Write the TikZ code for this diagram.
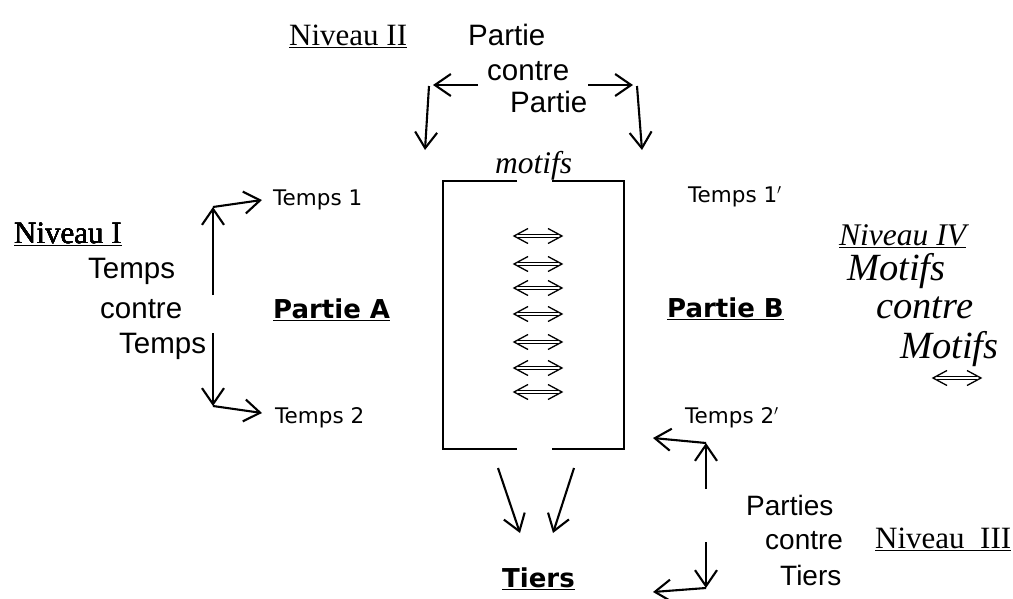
\documentclass[tikz,border=0pt]{standalone}
\usepackage{fontspec}
\setmainfont{Liberation Serif}
\newfontfamily\arialf{Liberation Sans}
\newfontfamily\comicf{DejaVu Sans}
\usetikzlibrary{arrows.meta,positioning}
\tikzset{ txt/.style={inner sep=0pt,anchor=base west},
  sans/.style={txt,font=\arialf\fontsize{29.5}{31}\selectfont},
  smallsans/.style={txt,font=\arialf\fontsize{28}{30}\selectfont},
  roman/.style={txt,font=\fontsize{31}{33}\selectfont},
  ital/.style={txt,font=\itshape\fontsize{31.5}{34}\selectfont},
  bigital/.style={txt,font=\itshape\fontsize{38.5}{40}\selectfont},
  comic/.style={txt,font=\comicf\fontsize{21.5}{24}\selectfont},
  comicb/.style={txt,font=\comicf\bfseries\fontsize{26}{28}\selectfont},
  arr/.style={line width=2.1pt,-{Straight Barb[length=16pt,width=22pt]}},
  box/.style={line width=1.5pt} }
\newcommand{\dblarrow}[2]{%
  \draw[line width=1.1pt] (#1+4,#2-1.9) -- (#1+44,#2-1.9) (#1+4,#2+1.9) -- (#1+44,#2+1.9);
  \draw[line width=1.3pt] (#1+14,#2-7.5) -- (#1,#2) -- (#1+14,#2+7.5)
    (#1+34,#2-7.5) -- (#1+48,#2) -- (#1+34,#2+7.5);}

\begin{document}
\begin{tikzpicture}[x=1pt,y=-1pt]
   \useasboundingbox (0,0) rectangle (1013,598);
   % Niveau II
   \node[roman] (n2) at (289,45) {\underline{Niveau II}};
   \node[sans] (pp1) at (468,45) {Partie};
   \node[sans] (pp2) at (487,80) {contre};
   \node[sans] (pp3) at (510,112) {Partie};
   \coordinate (pl0) at (478,85);  \coordinate (pl1) at (433,85);
   \coordinate (pl2) at (429,86);  \coordinate (pl3) at (425,150);
   \coordinate (pr0) at (588,85);  \coordinate (pr1) at (633,85);
   \coordinate (pr2) at (637,86);  \coordinate (pr3) at (642,150);
   \draw[arr] (pl0) -- (pl1);
   \draw[arr] (pl2) -- (pl3);
   \draw[arr] (pr0) -- (pr1);
   \draw[arr] (pr2) -- (pr3);
   % motifs box
   \node[ital] (mo) at (495,173) {motifs};
   \draw[box] (517,181) -- (443,181) -- (443,449) -- (517,449);
   \draw[box] (552,181) -- (624,181) -- (624,449) -- (552,449);
   \foreach \y in {236,264,288,314,342,368,392}
     \dblarrow{514}{\y}
   % Niveau I
   \node[roman] (n1) at (14,243) {\underline{Niveau I}};
   \node[sans] (tt1) at (88,278) {Temps};
   \node[sans] (tt2) at (100,318) {contre};
   \node[sans] (tt3) at (119,353) {Temps};
   \node[comic] (t1) at (273,205) {Temps 1};
   \node[comic] (t2) at (275,423) {Temps 2};
   \node[comicb] (pa) at (273,318) {\underline{Partie A}};
   \coordinate (ua) at (213,295);  \coordinate (ub) at (213,207);
   \coordinate (da) at (213,333);  \coordinate (db) at (213,406);
   \draw[arr] (ua) -- (ub);
   \draw[arr] (ub) -- (262,200);
   \draw[arr] (da) -- (db);
   \draw[arr] (db) -- (262,413);
   % Partie B, Niveau IV
   \node[comic] (t1p) at (688,202) {Temps 1$'$};
   \node[comic] (t2p) at (685,423) {Temps 2$'$};
   \node[comicb] (pb) at (667,317) {\underline{Partie B}};
   \node[ital] (n4) at (839,245) {\underline{Niveau IV}};
   \node[bigital] (m1) at (847,280) {Motifs};
   \node[bigital] (m2) at (876,318) {contre};
   \node[bigital] (m3) at (900,358) {Motifs};
   \dblarrow{933}{378}
   % Niveau III
   \node[smallsans] (pt1) at (746,515) {Parties};
   \node[smallsans] (pt2) at (765,549) {contre};
   \node[smallsans] (pt3) at (780,585) {Tiers};
   \node[roman] (n3) at (875,548) {\underline{Niveau\ \ III}};
   \node[comicb] (ti) at (502,587) {\underline{Tiers}};
   \coordinate (ra) at (706,489);  \coordinate (rb) at (706,443);
   \coordinate (rc) at (706,542);  \coordinate (rd) at (706,588);
   \draw[arr] (ra) -- (rb);
   \draw[arr] (rb) -- (653,438);
   \draw[arr] (rc) -- (rd);
   \draw[arr] (rd) -- (653,592);
   % vers Tiers
   \draw[arr] (498,468) -- (520,533);
   \draw[arr] (574,468) -- (553,533);
\end{tikzpicture}
\end{document}
